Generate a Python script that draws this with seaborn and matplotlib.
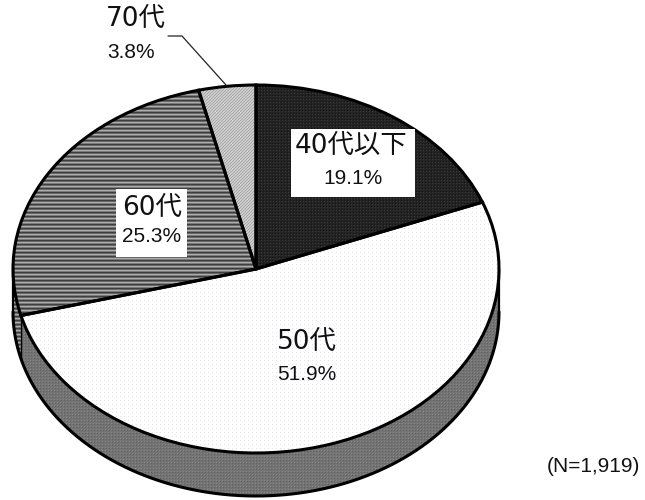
import numpy as np
import matplotlib
matplotlib.use("Agg")
import matplotlib.pyplot as plt
import seaborn as sns

# data
labels = ["40代以下", "50代", "60代", "70代"]
shares = [19.1, 51.9, 25.3, 3.8]
share_labels = ["19.1%", "51.9%", "25.3%", "3.8%"]
note = "(N=1,919)"

W, H = 645, 500
CX, CY, RX, RY, DEPTH = 256, 269, 243, 184, 43

sns.set_theme(style="white")
jp_font = ["DejaVu Sans", "Noto Sans CJK JP"]
num_font = ["Liberation Sans", "Noto Sans CJK JP"]

def dx(px):
    return (px - CX) / RX

def dy(py):
    return (CY - py) / RY

# fine textures, one pixel per cell
yy, xx = np.indices((H, W))

def texture(base, dots, mask):
    img = np.empty((H, W, 3))
    img[:] = matplotlib.colors.to_rgb(base)
    img[mask] = matplotlib.colors.to_rgb(dots)
    return img

tex_dark = texture("#232323", "#3a3a3a", (xx % 3 == 0) & (yy % 3 == 0))
tex_dark[(xx % 3 == 2) & (yy % 3 == 2)] = 0.08
tex_white = texture("#ffffff", "#e2e2f6", (xx % 4 == 0) & (yy % 4 == 0))
stripe = np.array([0.25, 0.40, 0.68, 0.48])
tex_stripe = np.repeat(stripe[yy % 4][:, :, None], 3, axis=2)
tex_diag = texture("#cccccc", "#a6a6a6", (xx + yy) % 3 == 0)
tex_side = texture("#737373", "#888888", (xx % 3 == 0) & (yy % 3 == 0))
tex_side[(xx % 3 == 1) & (yy % 3 == 1)] = 0.38
textures = [tex_dark, tex_white, tex_stripe, tex_diag]
extent = (dx(0), dx(W), dy(H), dy(0))

fig = plt.figure(figsize=(W / 100, H / 100), dpi=100)
ax = fig.add_axes([0, 0, 1, 1])

wedges, _ = ax.pie(shares, startangle=90, counterclock=False,
                   wedgeprops=dict(facecolor="none", edgecolor="black", linewidth=2.2, zorder=3))
ax.set_aspect("auto")

for w, t in zip(wedges, textures):
    im = ax.imshow(t, extent=extent, aspect="auto", interpolation="nearest", zorder=2)
    im.set_clip_path(w)

# side wall of the pie
edges = np.radians(np.cumsum(shares) / np.sum(shares) * 360)
t_50 = np.linspace(np.pi / 2, edges[1], 200)
t_60 = np.linspace(edges[1], 3 * np.pi / 2, 40)
for t, tex in [(t_50, tex_side), (t_60, tex_stripe)]:
    band = ax.fill_between(np.sin(t), np.cos(t), np.cos(t) - DEPTH / RY,
                           facecolor="none", edgecolor="none", zorder=1)
    im = ax.imshow(tex, extent=extent, aspect="auto", interpolation="nearest", zorder=1)
    im.set_clip_path(band.get_paths()[0], ax.transData)

t_all = np.linspace(np.pi / 2, 3 * np.pi / 2, 300)
ax.plot(np.sin(t_all), np.cos(t_all) - DEPTH / RY, color="black", lw=2.2, zorder=3)
for t in [np.pi / 2, edges[1], 3 * np.pi / 2]:
    ax.plot([np.sin(t)] * 2, [np.cos(t), np.cos(t) - DEPTH / RY],
            color="black", lw=1.6 if t != edges[1] else 1.0, zorder=3)

# white boxes behind the labels
for (x0, y0, x1, y1) in [(291, 129, 415, 197), (116, 189, 187, 257)]:
    ax.fill([dx(x0), dx(x1), dx(x1), dx(x0)], [dy(y0), dy(y0), dy(y1), dy(y1)],
            color="white", lw=0, zorder=4)

# labels
name_pos = [(351, 146), (307, 342), (152, 208), (136, 19)]
pct_pos = [(353, 178), (307, 374), (152, 237), (131, 52)]
for i in range(4):
    ax.text(dx(name_pos[i][0]), dy(name_pos[i][1]), labels[i], ha="center", va="center",
            fontsize=19, family=jp_font, color="#111111", zorder=5)
    ax.text(dx(pct_pos[i][0]), dy(pct_pos[i][1]), share_labels[i], ha="center", va="center",
            fontsize=15, family=num_font, color="#111111", zorder=5)

# leader line for the smallest slice
ax.plot([dx(168), dx(182), dx(226)], [dy(36), dy(36), dy(85)], color="#222222", lw=0.9, zorder=5)

ax.text(dx(593), dy(467), note, ha="center", va="center", fontsize=15, family=num_font,
        color="#111111", zorder=5)

ax.set_xlim(dx(0), dx(W))
ax.set_ylim(dy(H), dy(0))
ax.axis("off")

fig.savefig("out.png", dpi=100)
